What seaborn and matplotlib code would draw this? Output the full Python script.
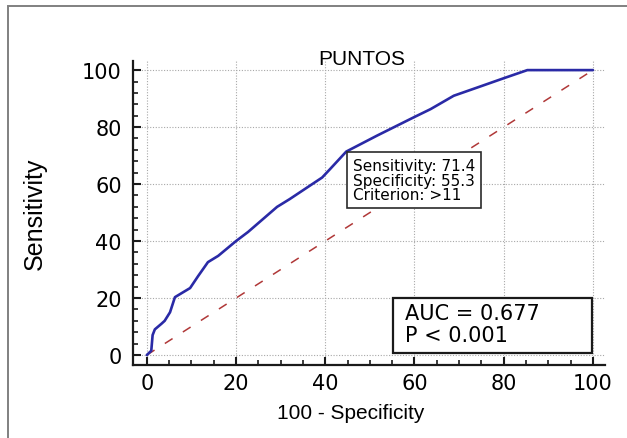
import matplotlib
matplotlib.use("Agg")
import matplotlib.pyplot as plt
import numpy as np
import pandas as pd
import seaborn as sns
from matplotlib.patches import Rectangle
from matplotlib.ticker import MultipleLocator

# ROC curve points (100 - specificity, sensitivity)
fpr = [0, 1.0, 1.3, 1.8, 3.3, 4.0, 5.2, 6.3, 8.1, 9.7, 11.5, 13.7, 16.0, 20.0,
       22.7, 29.2, 32.0, 39.3, 41.1, 44.7, 51.6, 59.8, 63.6, 68.8, 74.1, 80.1,
       85.3, 97.3, 100]
tpr = [0, 1.5, 7.0, 9.0, 11.0, 12.0, 15.0, 20.3, 22.0, 23.5, 27.7, 32.6, 34.8,
       40.0, 43.2, 52.0, 54.7, 62.3, 65.3, 71.4, 77.0, 83.4, 86.3, 91.0, 93.9,
       97.2, 100, 100, 100]
diag = [0, 100]

cut_sens = 71.4
cut_spec = 55.3
cut_crit = ">11"
auc = 0.677
p_text = "P < 0.001"
title = "PUNTOS"

sns.set_theme(style="white")
plt.rcParams["font.family"] = ["Liberation Sans", "DejaVu Sans"]
plt.rcParams.update({"text.color": "black", "axes.labelcolor": "black",
                     "xtick.color": "black", "ytick.color": "black"})

fig = plt.figure(figsize=(6.27, 4.39), dpi=100)
ax = fig.add_axes([0.2121, 0.1663, 0.7528, 0.6925])

# outer frame of the cropped panel
fig.patches.append(Rectangle((0.0128, -0.2), 1.2, 1.183, transform=fig.transFigure,
                             fill=False, edgecolor="#808080", lw=1.4))

roc = pd.DataFrame({"fpr": fpr, "tpr": tpr})
ref = pd.DataFrame({"x": diag, "y": diag})
sns.lineplot(data=ref, x="x", y="y", ax=ax, color="#b03838", lw=1.1,
             dashes=False, linestyle=(0, (6, 8)), zorder=2)
sns.lineplot(data=roc, x="fpr", y="tpr", ax=ax, color="#2a2aa6", lw=1.9,
             sort=False, estimator=None, zorder=3, clip_on=False)

ax.set_xlim(-3.1, 102.7)
ax.set_ylim(-3.5, 103.2)
ax.xaxis.set_major_locator(MultipleLocator(20))
ax.xaxis.set_minor_locator(MultipleLocator(5))
ax.yaxis.set_major_locator(MultipleLocator(20))
ax.yaxis.set_minor_locator(MultipleLocator(4))
ax.set_xticks(range(0, 101, 20))
ax.set_yticks(range(0, 101, 20))

ax.grid(True, which="major", color="#a8a8a8", lw=0.8, linestyle=(0, (1, 1.5)))
for s in ["top", "right"]:
    ax.spines[s].set_visible(False)
for s in ["left", "bottom"]:
    ax.spines[s].set_linewidth(1.6)
    ax.spines[s].set_color("#1a1a1a")

ax.tick_params(which="major", direction="in", length=6, width=1.5, color="#1a1a1a",
               labelsize=15, left=True, bottom=True)
ax.tick_params(which="minor", direction="in", length=3.5, width=1.2, color="#1a1a1a",
               left=True, bottom=True)
ax.tick_params(axis="y", pad=8)
ax.tick_params(axis="x", pad=6)
for lab in ax.get_xticklabels() + ax.get_yticklabels():
    lab.set_family("DejaVu Sans")

ax.set_xlabel("100 - Specificity", fontsize=15)
ax.set_ylabel("Sensitivity", fontsize=18)
ax.xaxis.set_label_coords(0.462, -0.125)
ax.yaxis.set_label_coords(-0.182, 0.5)
ax.set_title(title, fontsize=15, x=0.485, y=0.99, pad=0)

# criterion box anchored at the cut-off point
ax.annotate(f"Sensitivity: {cut_sens}\nSpecificity: {cut_spec}\nCriterion: {cut_crit}",
            xy=(100 - cut_spec, cut_sens), xytext=(4.8, -4.5), textcoords="offset points",
            ha="left", va="top", fontsize=11, family="DejaVu Sans", linespacing=0.98,
            bbox=dict(boxstyle="square,pad=0.4", fc="white", ec="#2a2a2a", lw=1.2),
            zorder=5)

# AUC box
ax.add_patch(Rectangle((0.551, 0.039), 0.421, 0.181, transform=ax.transAxes,
                       fc="white", ec="#1a1a1a", lw=1.6, zorder=5))
ax.text(0.576, 0.135, f"AUC = {auc}\n{p_text}", transform=ax.transAxes,
        ha="left", va="center", fontsize=15, family="DejaVu Sans",
        linespacing=1.15, zorder=6)

fig.savefig("out.png", dpi=100)
